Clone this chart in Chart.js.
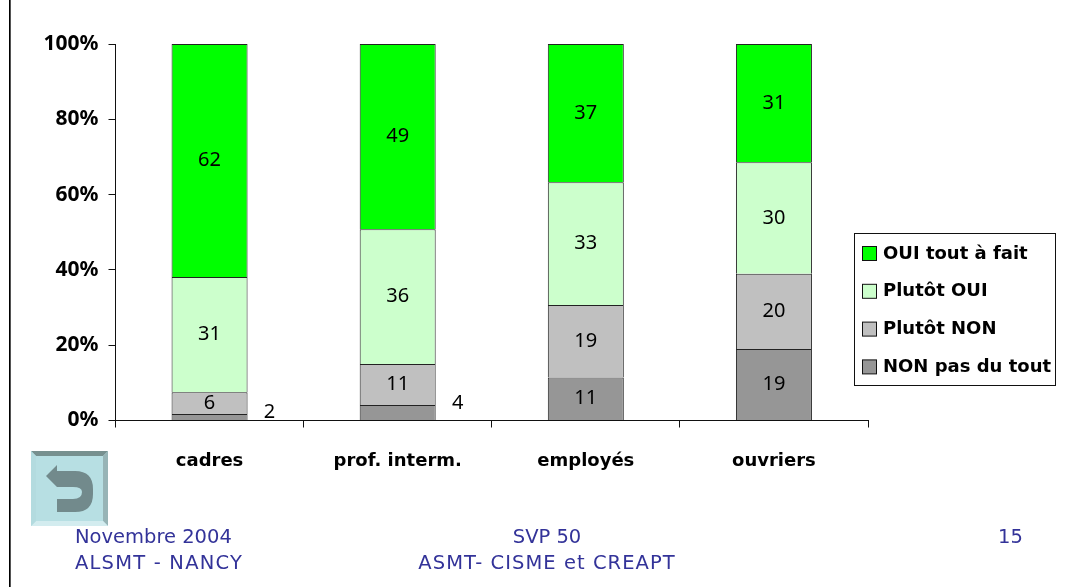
<!DOCTYPE html>
<html lang="fr"><head><meta charset="utf-8">
<style>
html,body{margin:0;padding:0;background:#fff;width:1074px;height:587px;overflow:hidden}
body{position:relative;font-family:"DejaVu Sans",sans-serif;color:#333399}
canvas{position:absolute;left:0;top:0}
#rule{position:absolute;left:9px;top:0;width:1px;height:587px;background:#000;box-shadow:1px 0 0 #555}
.f{position:absolute;font-size:19.5px;line-height:28px;white-space:pre}
svg{position:absolute;left:31px;top:451px}
</style>
<script src="https://cdn.jsdelivr.net/npm/chart.js@4/dist/chart.umd.min.js"></script>
</head><body>
<div id="rule"></div>
<canvas id="c" width="1074" height="587"></canvas>
<svg width="77" height="75" viewBox="0 0 77 75">
<rect width="77" height="75" fill="#b7dfe3"/>
<polygon points="0,0 77,0 72,5 5,5" fill="#77908f"/>
<polygon points="77,0 77,75 72,70 72,5" fill="#97b4b6"/>
<polygon points="0,75 77,75 72,70 5,70" fill="#d3ecef"/>
<polygon points="0,0 0,75 5,70 5,5" fill="#b3dbdf"/>
<path d="M15,25 L26,14 L26,20 L44,20 Q62,20 62,38 L62,43 Q62,61 44,61 L26,61 L26,48 L42,48 Q51,48 51,41 Q51,36 42,36 L26,36 Z" fill="#728a8c"/>
</svg>
<div class="f" style="left:75px;top:523px">Novembre 2004</div>
<div class="f" style="left:75px;top:549px;letter-spacing:1.2px">ALSMT - NANCY</div>
<div class="f" style="left:347px;width:400px;text-align:center;top:523px">SVP 50</div>
<div class="f" style="left:347px;width:400px;text-align:center;top:549px;letter-spacing:1.05px">ASMT- CISME et CREAPT</div>
<div class="f" style="left:998px;top:523px">15</div>
<script>
const categories = ["cadres", "prof. interm.", "employés", "ouvriers"];
const nonPasDuTout = [1.7, 4.1, 11.4, 19];
const plutotNon = [5.8, 10.9, 19.3, 20];
const plutotOui = [30.6, 35.8, 32.6, 29.6];
const ouiToutAFait = [61.9, 49.2, 36.7, 31.4];
const yTicks = [0, 20, 40, 60, 80, 100];
const NOTO = '"Noto Sans", sans-serif';
const DEJA = '"DejaVu Sans", sans-serif';

const segLabels = {
  id: 'segLabels',
  afterDatasetsDraw(chart) {
    const ctx = chart.ctx;
    ctx.save();
    ctx.fillStyle = '#000';
    ctx.font = '20px ' + NOTO;
    ctx.textAlign = 'center';
    ctx.textBaseline = 'middle';
    chart.data.datasets.forEach((ds, i) => {
      chart.getDatasetMeta(i).data.forEach((bar, j) => {
        const v = ds.data[j];
        const outside = v < 5 && i === 0;
        const x = outside ? bar.x + 60 : bar.x;
        const y = outside ? bar.y - 2 : (bar.y + bar.base) / 2;
        ctx.fillText(String(Math.round(v)), x, y);
      });
    });
    ctx.restore();
  }
};

const boxLegend = {
  id: 'boxLegend',
  afterDraw(chart) {
    const ctx = chart.ctx;
    ctx.save();
    ctx.strokeStyle = '#111';
    ctx.lineWidth = 1;
    ctx.fillStyle = '#fff';
    ctx.fillRect(854.5, 233.5, 201, 152);
    ctx.strokeRect(854.5, 233.5, 201, 152);
    ctx.font = 'bold 18px ' + DEJA;
    ctx.textBaseline = 'middle';
    ctx.textAlign = 'left';
    const items = chart.data.datasets.slice().reverse();
    items.forEach((ds, k) => {
      const y = 253 + k * 37.8;
      ctx.fillStyle = ds.backgroundColor;
      ctx.fillRect(862.5, y - 6.5, 14, 14);
      ctx.strokeRect(862.5, y - 6.5, 14, 14);
      ctx.fillStyle = '#000';
      ctx.fillText(ds.label, 883, y + 1);
    });
    ctx.restore();
  }
};

function ds(label, data, color) {
  return {label, data, backgroundColor: color, borderColor: '#222', borderWidth: 1,
    categoryPercentage: 1, barPercentage: 0.404};
}

new Chart(document.getElementById('c'), {
  type: 'bar',
  data: {
    labels: categories,
    datasets: [
      ds('NON pas du tout', nonPasDuTout, '#969696'),
      ds('Plutôt NON', plutotNon, '#c0c0c0'),
      ds('Plutôt OUI', plutotOui, '#ccffcc'),
      ds('OUI tout à fait', ouiToutAFait, '#00ff00')
    ]
  },
  options: {
    responsive: false,
    animation: false,
    layout: {padding: {top: 44, right: 206, left: 0, bottom: 0}},
    plugins: {legend: {display: false}, title: {display: false}, tooltip: {enabled: false}},
    scales: {
      x: {
        stacked: true,
        afterFit(s) { s.height = 166.5; },
        border: {color: '#111', width: 1},
        grid: {drawOnChartArea: false, drawTicks: true, tickLength: 7, color: '#111'},
        ticks: {color: '#000', padding: 23, maxRotation: 0, font: {family: DEJA, size: 18, weight: 'bold'}}
      },
      y: {
        stacked: true, min: 0, max: 100,
        afterFit(s) { s.width = 115.5; },
        afterBuildTicks(s) { s.ticks = yTicks.map(value => ({value})); },
        border: {color: '#111', width: 1},
        grid: {drawOnChartArea: false, drawTicks: true, tickLength: 7, color: '#111'},
        ticks: {color: '#000', padding: 10, callback: v => v + '%', font: {family: NOTO, size: 21, weight: 'bold'}}
      }
    }
  },
  plugins: [segLabels, boxLegend]
});
</script>
</body></html>
